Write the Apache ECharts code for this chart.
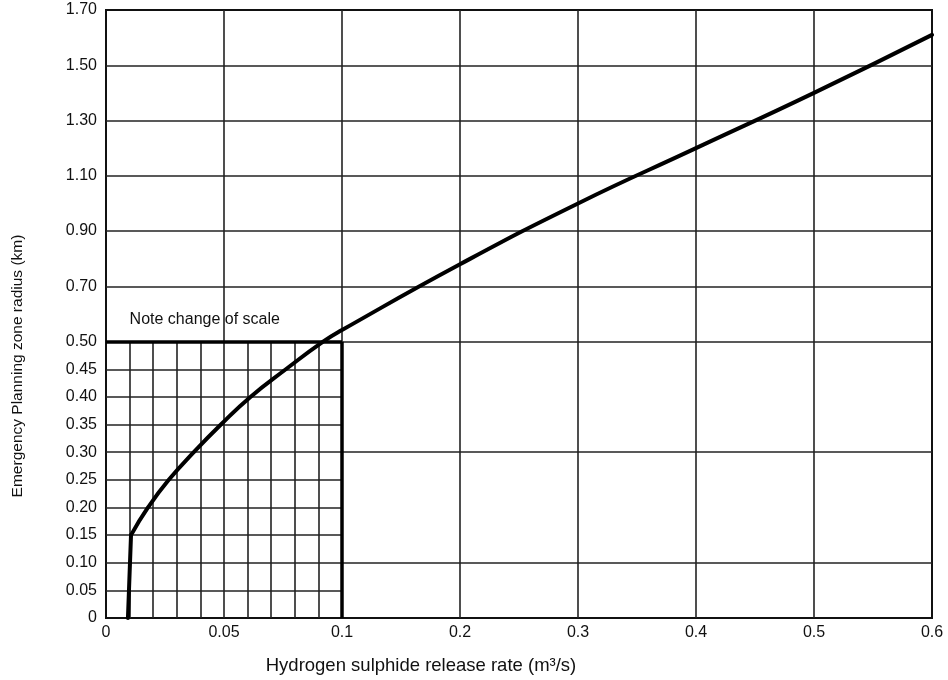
<!DOCTYPE html>
<html>
<head>
<meta charset="utf-8">
<script src="https://cdn.jsdelivr.net/npm/echarts@6/dist/echarts.min.js"></script>
<style>
  html, body { margin: 0; padding: 0; background: #fff; }
  #chart { width: 948px; height: 680px; }
</style>
</head>
<body>
<div id="chart"></div>
<script>
// ---- data ----
// vertical start of the curve (release rate ~0.01 m3/s, radius 0 .. 0.15 km)
const stubX = [0.0093, 0.0106];
const stubY = [0, 0.15];
// main curve
const curveX = [0.0106, 0.0178, 0.0266, 0.0372, 0.0487, 0.0612, 0.0762, 0.092, 0.1, 0.2, 0.3, 0.4, 0.5, 0.6];
const curveY = [0.15, 0.20, 0.25, 0.30, 0.35, 0.40, 0.45, 0.50, 0.542, 0.78, 1.0, 1.2, 1.4, 1.61];

const xTicks = [0, 0.05, 0.1, 0.2, 0.3, 0.4, 0.5, 0.6];
const xTickLabels = ['0', '0.05', '0.1', '0.2', '0.3', '0.4', '0.5', '0.6'];
const yTicks = [0, 0.05, 0.10, 0.15, 0.20, 0.25, 0.30, 0.35, 0.40, 0.45, 0.50, 0.70, 0.90, 1.10, 1.30, 1.50, 1.70];
const yTickLabels = ['0', '0.05', '0.10', '0.15', '0.20', '0.25', '0.30', '0.35', '0.40', '0.45', '0.50', '0.70', '0.90', '1.10', '1.30', '1.50', '1.70'];

// grid lines
const fineXLines = [0.01, 0.02, 0.03, 0.04, 0.06, 0.07, 0.08, 0.09];   // 0 .. 0.5 only
const fineYLines = [0.05, 0.15, 0.20, 0.25, 0.35, 0.40, 0.45];         // 0 .. 0.1 only
const fullXLines = [0.05, 0.2, 0.3, 0.4, 0.5];                         // full height
const fullYLines = [0.10, 0.30, 0.70, 0.90, 1.10, 1.30, 1.50];         // full width
const xBreak = 0.1, yBreak = 0.5, xMax = 0.6, yMax = 1.7;

// ---- piecewise scale ("Note change of scale") ----
const fx = x => x <= xBreak ? 2 * x : x + xBreak;
const fy = y => y <= yBreak ? 2 * y : y + yBreak;

const seg = (a, b) => ({ coords: [[fx(a[0]), fy(a[1])], [fx(b[0]), fy(b[1])]] });
const thinSegs = [];
fineXLines.forEach(x => thinSegs.push(seg([x, 0], [x, yBreak])));
fineYLines.forEach(y => thinSegs.push(seg([0, y], [xBreak, y])));
fullXLines.forEach(x => thinSegs.push(seg([x, 0], [x, yMax])));
fullYLines.forEach(y => thinSegs.push(seg([0, y], [xMax, y])));
thinSegs.push(seg([xBreak, yBreak], [xBreak, yMax]));
thinSegs.push(seg([xBreak, yBreak], [xMax, yBreak]));
const thickSegs = [seg([xBreak, 0], [xBreak, yBreak]), seg([0, yBreak], [xBreak, yBreak])];

const FONT = "'Liberation Sans', Arial, sans-serif";
const near = (a, b) => Math.abs(a - b) < 1e-6;

const chart = echarts.init(document.getElementById('chart'), null, { renderer: 'canvas' });
chart.setOption({
  animation: false,
  backgroundColor: '#fff',
  grid: { left: 106, right: 16, top: 10, bottom: 62, show: true, borderColor: '#111', borderWidth: 2 },
  xAxis: {
    type: 'value', min: 0, max: fx(xMax), interval: 0.1,
    axisLine: { show: true, lineStyle: { color: '#111', width: 2 } },
    axisTick: { show: false },
    splitLine: { show: false },
    axisLabel: {
      margin: 7, color: '#111', fontSize: 16, fontFamily: FONT,
      formatter: v => { const i = xTicks.findIndex(t => near(fx(t), v)); return i >= 0 ? xTickLabels[i] : ''; }
    },
    name: 'Hydrogen sulphide release rate (m³/s)',
    nameLocation: 'middle', nameGap: 38,
    nameTextStyle: { color: '#111', fontSize: 18.5, fontFamily: FONT, padding: [0, 196, 0, 0] }
  },
  yAxis: {
    type: 'value', min: 0, max: fy(yMax), interval: 0.1,
    axisLine: { show: true, lineStyle: { color: '#111', width: 2 } },
    axisTick: { show: false },
    splitLine: { show: false },
    axisLabel: {
      margin: 9, color: '#111', fontSize: 16, fontFamily: FONT,
      formatter: v => { const i = yTicks.findIndex(t => near(fy(t), v)); return i >= 0 ? yTickLabels[i] : ''; }
    },
    name: 'Emergency Planning zone radius (km)',
    nameLocation: 'middle', nameGap: 80, nameRotate: 90,
    nameTextStyle: { color: '#111', fontSize: 15.5, fontFamily: FONT, padding: [0, 104, 0, 0] }
  },
  series: [
    {
      type: 'lines', coordinateSystem: 'cartesian2d', silent: true, z: 2,
      lineStyle: { color: '#222', width: 1.6, opacity: 1 },
      data: thinSegs
    },
    {
      type: 'lines', coordinateSystem: 'cartesian2d', silent: true, z: 3,
      lineStyle: { color: '#000', width: 3.5, opacity: 1 },
      data: thickSegs
    },
    {
      type: 'line', z: 10, silent: true,
      showSymbol: false, smooth: false,
      lineStyle: { color: '#000', width: 4, cap: 'round', join: 'round' },
      data: stubX.map((x, i) => [fx(x), fy(stubY[i])])
    },
    {
      type: 'line', z: 10, silent: true,
      showSymbol: false, smooth: 0.5,
      lineStyle: { color: '#000', width: 4, cap: 'round', join: 'round' },
      data: curveX.map((x, i) => [fx(x), fy(curveY[i])])
    }
  ]
});

const p = chart.convertToPixel({ gridIndex: 0 }, [fx(0.01), fy(0.58)]);
chart.setOption({
  graphic: [{
    type: 'text', x: p[0], y: p[1], silent: true,
    style: { text: 'Note change of scale', fill: '#111', fontSize: 16, fontFamily: FONT, textVerticalAlign: 'middle' }
  }]
});
</script>
</body>
</html>
